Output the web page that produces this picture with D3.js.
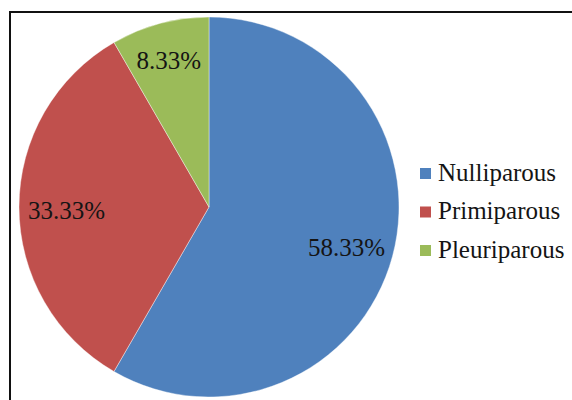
<!DOCTYPE html>
<html>
<head>
<meta charset="utf-8">
<script src="https://cdn.jsdelivr.net/npm/d3@7"></script>
<style>
  html, body { margin: 0; padding: 0; background: #fff; }
  svg { display: block; }
  .serif { font-family: "Liberation Serif", Tinos, "Times New Roman", Times, serif; }
</style>
</head>
<body>
<svg id="chart" width="572" height="400"></svg>
<script>
// Parity distribution
const categories = ["Nulliparous", "Primiparous", "Pleuriparous"];
const values = [58.33, 33.33, 8.33];
const labels = ["58.33%", "33.33%", "8.33%"];
const colors = ["#4F81BD", "#C0504D", "#9BBB59"];

const svg = d3.select("#chart");

// frame around the chart area
svg.append("rect")
  .attr("x", 10).attr("y", 12)
  .attr("width", 620).attr("height", 420)
  .attr("fill", "#fff")
  .attr("stroke", "#111")
  .attr("stroke-width", 2);

const cx = 209, cy = 207, r = 190;

const pie = d3.pie().value(d => d).sort(null);
const arcs = pie(values);
const arc = d3.arc().innerRadius(0).outerRadius(r);

// narrow slices get their label pushed further out where there is more room
const labelRadius = d => (d.endAngle - d.startAngle) < Math.PI / 4 ? r * 0.82 : r * 0.75;
const labelPos = d => d3.arc().innerRadius(labelRadius(d)).outerRadius(labelRadius(d)).centroid(d);

const g = svg.append("g").attr("transform", `translate(${cx},${cy})`);

g.selectAll("path.slice")
  .data(arcs)
  .join("path")
  .attr("class", "slice")
  .attr("d", arc)
  .attr("fill", (d, i) => colors[i])
  .attr("stroke", "rgba(255,255,255,0.4)")
  .attr("stroke-width", 1);

g.selectAll("text.lbl")
  .data(arcs)
  .join("text")
  .attr("class", "lbl serif")
  .attr("transform", d => {
    const [x, y] = labelPos(d);
    return `translate(${x},${y})`;
  })
  .attr("text-anchor", "middle")
  .attr("dy", "0.5em")
  .attr("font-size", 25)
  .attr("fill", "#141414")
  .text((d, i) => labels[i]);

// legend
const legend = svg.append("g").attr("transform", "translate(420,168)");
const item = legend.selectAll("g.item")
  .data(categories)
  .join("g")
  .attr("class", "item")
  .attr("transform", (d, i) => `translate(0,${i * 38.5})`);

item.append("rect")
  .attr("width", 11).attr("height", 11)
  .attr("fill", (d, i) => colors[i]);

item.append("text")
  .attr("class", "serif")
  .attr("x", 18).attr("y", 12.5)
  .attr("font-size", 25)
  .attr("fill", "#141414")
  .text(d => d);
</script>
</body>
</html>
